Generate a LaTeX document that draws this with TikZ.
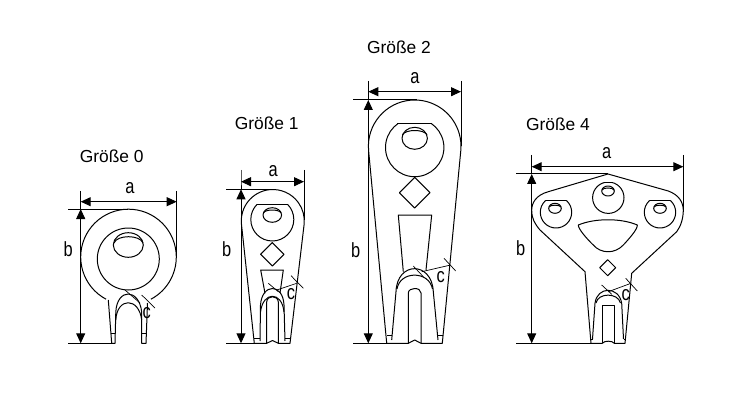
\documentclass[tikz,border=0pt]{standalone}
\usepackage{fontspec}
\setmainfont{Liberation Sans}
\usetikzlibrary{arrows.meta}

\tikzset{
	title/.style={font=\fontsize{17.4}{18}\selectfont, inner sep=0pt},
	dimtext/.style={font=\fontsize{20.5}{21}\selectfont, inner sep=0pt, xscale=.8},
	part/.style={line width=1pt, line join=round},
	thin part/.style={line width=.7pt},
	ext/.style={line width=1pt},
	dim/.style={line width=1pt, {Stealth[length=10pt,width=9pt,inset=0pt]}-{Stealth[length=10pt,width=9pt,inset=0pt]}}
}

\begin{document}
\begin{tikzpicture}[x=1pt, y=-1pt]
	\useasboundingbox (0,0) rectangle (750,401);

	% Groesse 0
	\node[title] (title0) at (111.7,156) {Größe 0};
	\draw[part] (128.5,257) ++(118:47.8) arc[start angle=118, end angle=422, radius=47.8];
	\draw[part] (128.3,259) circle (31);
	\draw[part] (128.3,245) ellipse (15 and 12.3);
	\draw[part] (114,243) .. controls (117,234.6) and (140,234.6) .. (143,243);
	\draw[part] (108.3,300) -- (111.7,343.3) -- (115,343.3) -- (115.8,312) .. controls (117,288) and (139,288) .. (141.7,312) -- (141.7,343.3) -- (146,343.3) -- (147.5,303);
	\draw[part] (115.8,320) .. controls (117,297) and (139,297) .. (141.7,320);
	\draw[thin part] (111,333.5) -- (115,333.5) (141.7,333.5) -- (146.6,333.5);
	\coordinate (a0l) at (80.7,201.7);
	\coordinate (a0r) at (176.7,201.7);
	\coordinate (b0t) at (80.7,209);
	\coordinate (b0b) at (80.7,343.3);
	\draw[ext] (80.7,191) -- (a0l) -- (b0t) (176.7,191) -- (176.7,258);
	\draw[ext] (68,209) -- (128,209) (68,343.3) -- (111.7,343.3);
	\draw[dim] (a0l) -- (a0r);
	\draw[dim] (b0t) -- (b0b);
	\draw[thin part] (125,290) -- (140,303) (141.7,295) -- (155,308);
	\node[dimtext] (a0) at (130,188.3) {a};
	\node[dimtext] (b0) at (68.3,249.3) {b};
	\node[dimtext] (c0) at (146.7,313.3) {c};

	% Groesse 1
	\node[title] (title1) at (266.7,123.5) {Größe 1};
	\draw[part] (272.8,221) ++(174:31.5) arc[start angle=174, end angle=366, radius=31.5] -- (290,343.3) -- (278.3,343.3) -- (272.5,340.5) -- (266.7,343.3) -- (254.3,343.3) -- cycle;
	\begin{scope}
		\clip (240,204.3) rectangle (310,245);
		\draw[part] (272.3,219.5) circle (21.5);
	\end{scope}
	\draw[part] (257,204.3) -- (287.6,204.3);
	\draw[part] (272.3,215) ellipse (9.3 and 7.3);
	\draw[part] (263.5,213) .. controls (265,209) and (279.5,209) .. (281,213);
	\draw[part] (272.3,242.6) -- (284,254.3) -- (272.3,266) -- (260.6,254.3) -- cycle;
	\draw[part] (265,293.3) -- (260.7,270) -- (283.3,270) -- (280,293);
	\draw[part] (260,341) -- (260.5,305) .. controls (262,283) and (283,283) .. (284,305) -- (285,341);
	\draw[part] (260.5,312) .. controls (263,291) and (282,291) .. (284,312);
	\draw[part] (266.7,343.3) -- (266.7,302) .. controls (267,295) and (278,295) .. (278.3,302) -- (278.3,343.3);
	\draw[thin part] (254,338) -- (260,338) (285,338) -- (290.5,338);
	\coordinate (a1l) at (241,181.7);
	\coordinate (a1r) at (304,181.7);
	\coordinate (b1t) at (241,189.3);
	\coordinate (b1b) at (241,343.3);
	\draw[ext] (241,170) -- (a1l) -- (b1t) (304,170) -- (304,220);
	\draw[ext] (226,189.3) -- (270,189.3) (226,343.3) -- (254.3,343.3);
	\draw[dim] (a1l) -- (a1r);
	\draw[dim] (b1t) -- (b1b);
	\draw[thin part] (268.3,283.3) -- (278.3,291.7) (291,275.7) -- (303.3,288.3) (276.7,290) -- (296.7,283.3);
	\node[dimtext] (a1) at (273.3,171) {a};
	\node[dimtext] (b1) at (226.7,249) {b};
	\node[dimtext] (c1) at (291,294) {c};

	% Groesse 2
	\node[title] (title2) at (399,47) {Größe 2};
	\draw[part] (414.7,146.3) ++(175:46.3) arc[start angle=175, end angle=365, radius=46.3] -- (442.3,343.3) -- (421,343.3) -- (414.7,340) -- (408.3,343.3) -- (386.7,343.3) -- cycle;
	\begin{scope}
		\clip (380,124) rectangle (450,190);
		\draw[part] (414.7,147.5) circle (29.2);
	\end{scope}
	\draw[part] (397.4,124) -- (432,124);
	\draw[part] (414.7,138.3) ellipse (12.7 and 11);
	\draw[part] (402.5,135) .. controls (405,129) and (424.5,129) .. (427,135);
	\draw[part] (414.7,177.4) -- (430,192.7) -- (414.7,208) -- (399.4,192.7) -- cycle;
	\draw[part] (403.3,271.7) -- (398.3,215) -- (431.7,215) -- (426,270);
	\draw[part] (391.7,340) -- (396,291.7) .. controls (397,261) and (432,261) .. (433.3,291.7) -- (438,340);
	\draw[part] (397,289) .. controls (400,270.5) and (429,270.5) .. (432.5,289);
	\draw[part] (408.3,343.3) -- (408.3,293) .. controls (408.5,287) and (421,287) .. (421,293) -- (421,343.3);
	\draw[thin part] (387,335) -- (392,335) (437.5,335) -- (442.5,335);
	\coordinate (a2l) at (368.3,91.7);
	\coordinate (a2r) at (461,91.7);
	\coordinate (b2t) at (368.3,100);
	\coordinate (b2b) at (368.3,343.3);
	\draw[ext] (368.3,81) -- (a2l) -- (b2t) (461,81) -- (461,146);
	\draw[ext] (353.3,100) -- (416.7,100) (353.3,343.3) -- (386.7,343.3);
	\draw[dim] (a2l) -- (a2r);
	\draw[dim] (b2t) -- (b2b);
	\draw[thin part] (413.3,266) -- (423.3,276.7) (444,258.3) -- (455.7,271) (421.7,271.7) -- (450.7,265);
	\node[dimtext] (a2) at (415,78) {a};
	\node[dimtext] (b2) at (355.7,250) {b};
	\node[dimtext] (c2) at (440.7,276.7) {c};

	% Groesse 4
	\node[title] (title4) at (558,124) {Größe 4};
	\draw[part] (608,174) -- (548.3,191.7) .. controls (536,195) and (531.7,203) .. (531.7,210) .. controls (531.7,219) and (535,224) .. (540,230) -- (585,271.7) -- (591,343.3) -- (602.3,343.3) .. controls (604,340.5) and (612.5,340.5) .. (614.3,343.3) -- (625,343.3) -- (631.7,273.3) -- (676.7,231.7) .. controls (681,226) and (683.3,218) .. (683.3,210) .. controls (683,202) and (679,195) .. (668.3,191) -- cycle;
	\begin{scope}
		\clip (590,182.7) rectangle (630,220);
		\draw[part] (608.3,197.7) circle (15.7);
	\end{scope}
	\draw[part] (603.5,182.7) -- (613.1,182.7);
	\draw[part] (608,191) ellipse (6.3 and 5);
	\draw[part] (602,190) .. controls (603,187.3) and (613,187.3) .. (614,190);
	\begin{scope}
		\clip (535,200) rectangle (580,235);
		\draw[part] (556,212.3) circle (15.7);
	\end{scope}
	\draw[part] (546,200) -- (566,200);
	\draw[part] (555,208.3) ellipse (6.3 and 5);
	\draw[part] (549,207) .. controls (550,204.6) and (560,204.6) .. (561,207);
	\begin{scope}
		\clip (640,200) rectangle (680,235);
		\draw[part] (660,212.3) circle (15.7);
	\end{scope}
	\draw[part] (650,200) -- (670,200);
	\draw[part] (660,208.3) ellipse (6.3 and 5);
	\draw[part] (654,207) .. controls (655,204.6) and (665,204.6) .. (666,207);
	\draw[part] (578.3,225) .. controls (595,218) and (621,218) .. (637.3,225) .. controls (638,229) and (628,240) .. (623.3,245) .. controls (615,254) and (601,254) .. (593.3,245) .. controls (588,240) and (578,229) .. cycle;
	\draw[part] (607.7,259.7) -- (615.7,267.7) -- (607.7,275.7) -- (599.7,267.7) -- cycle;
	\draw[part] (592.5,339) -- (595,303.3) .. controls (597,286) and (619,286) .. (621.7,303.3) -- (623.5,339);
	\draw[part] (596,303) .. controls (598,292.5) and (618,292.5) .. (620.5,303);
	\draw[part] (602.3,343.3) -- (602.3,305) -- (614.3,305) -- (614.3,343.3);
	\draw[thin part] (591,339) -- (592.5,339) (623.5,339) -- (625.4,339);
	\coordinate (a4l) at (531.7,166.7);
	\coordinate (a4r) at (683.3,166.7);
	\coordinate (b4t) at (531.7,174);
	\coordinate (b4b) at (531.7,343.3);
	\draw[ext] (531.7,155) -- (a4l) -- (b4t) (683.3,155) -- (683.3,212);
	\draw[ext] (516,174) -- (608,174) (516,343.3) -- (591,343.3);
	\draw[dim] (a4l) -- (a4r);
	\draw[dim] (b4t) -- (b4b);
	\draw[thin part] (601.7,285) -- (611.7,294.3) (625.7,278.3) -- (637.3,291) (608.3,291.7) -- (631,283.3);
	\node[dimtext] (a4) at (606.7,153.3) {a};
	\node[dimtext] (b4) at (520.7,248.3) {b};
	\node[dimtext] (c4) at (625.7,295) {c};
\end{tikzpicture}
\end{document}
